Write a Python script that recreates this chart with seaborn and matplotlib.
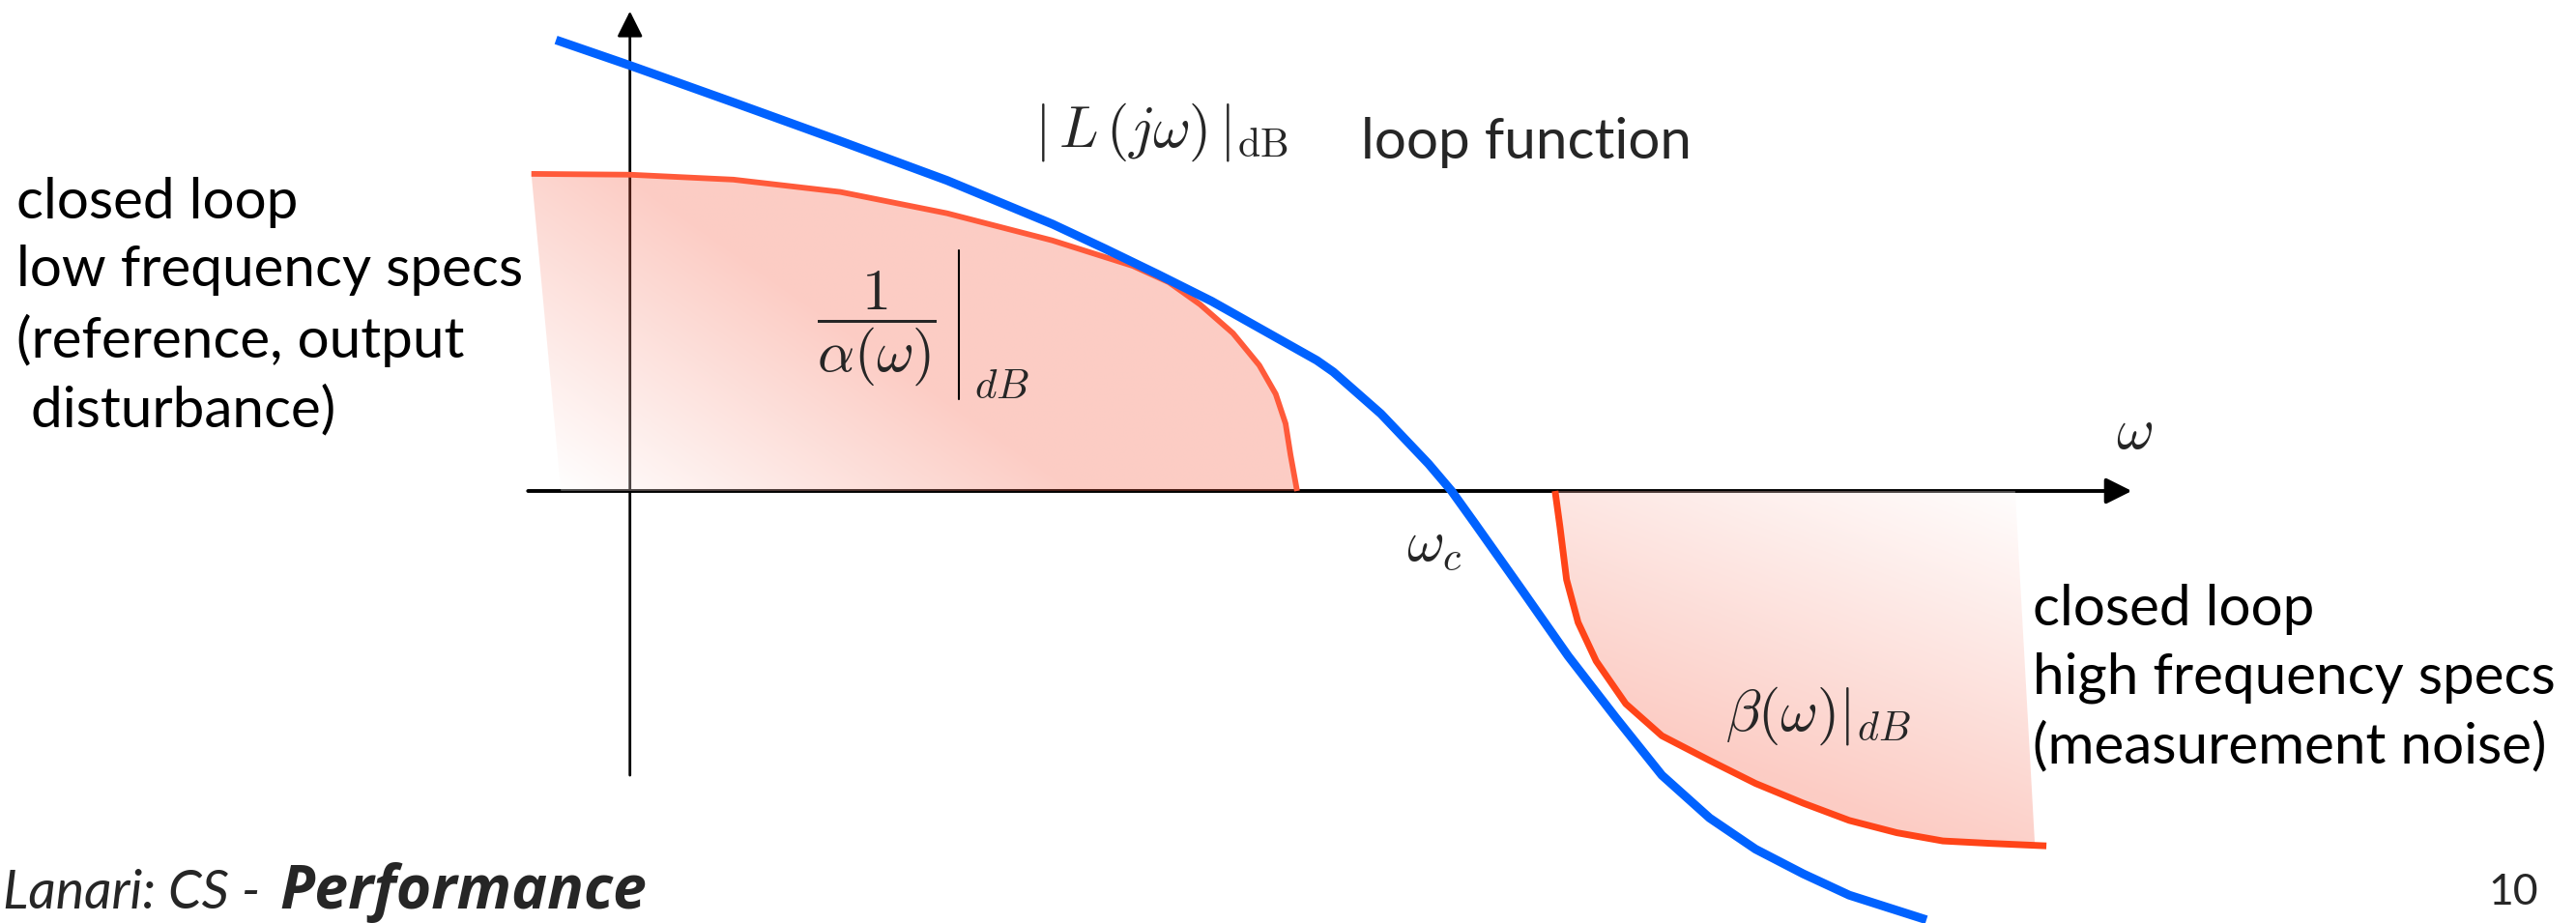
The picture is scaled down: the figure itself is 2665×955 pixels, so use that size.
import numpy as np
import matplotlib
matplotlib.use("Agg")
import matplotlib.pyplot as plt
from matplotlib.colors import LinearSegmentedColormap
from matplotlib.lines import Line2D
import seaborn as sns

# ---- data: log-frequency axis (arbitrary decades) vs magnitude in dB ----
loop_w = [-0.44, 0.01, 0.64, 1.29, 1.94, 2.58, 2.90, 3.22, 3.55, 3.87, 4.19, 4.29,
          4.58, 4.87, 5.01, 5.15, 5.44, 5.72, 6.01, 6.29, 6.58, 6.86, 7.15, 7.43, 7.90]
loop_db = [54.9, 51.8, 47.3, 42.6, 37.8, 32.5, 29.5, 26.4, 23.1, 19.5, 15.9, 14.5,
           9.4, 3.3, 0.0, -3.9, -12.1, -20.1, -27.6, -34.6, -39.8, -43.6, -46.6, -49.2, -52.2]

alpha_w = [-0.59, 0.01, 0.64, 1.29, 1.94, 2.58, 3.07, 3.29, 3.48, 3.68, 3.84,
           3.94, 4.00, 4.03, 4.07]
alpha_db = [38.6, 38.5, 37.9, 36.4, 33.8, 30.5, 27.4, 25.4, 22.7, 19.2, 15.3,
            11.8, 8.2, 4.4, 0.0]

beta_w = [5.64, 5.67, 5.71, 5.78, 5.89, 6.07, 6.29, 6.58, 6.86, 7.15, 7.43,
          7.72, 8.00, 8.29, 8.63]
beta_db = [0.0, -4.4, -10.8, -16.0, -20.7, -25.9, -29.8, -32.8, -35.6, -38.0, -40.1,
           -41.6, -42.6, -42.9, -43.2]

low_band_start = -0.41   # low-frequency spec region meets the 0 dB axis here
high_band_top = 8.44     # high-frequency spec region: right edge at 0 dB
high_band_bottom = 8.56  # high-frequency spec region: right edge on the beta curve

# ---- figure ----
W, H, DPI = 2665, 955, 100
PX_PER_W, PX_PER_DB = 170.0, 8.5
X0, Y0 = 650.0, 508.0

sns.set_theme(style="white")
plt.rcParams["font.family"] = ["Lato", "DejaVu Sans"]
plt.rcParams["mathtext.fontset"] = "cm"

fig = plt.figure(figsize=(W / DPI, H / DPI), dpi=DPI)
ax = fig.add_axes([0, 0, 1, 1])
XLIM = (-X0 / PX_PER_W, (W - X0) / PX_PER_W)
YLIM = (-(H - Y0) / PX_PER_DB, Y0 / PX_PER_DB)
ax.set_axis_off()

BLUE = "#0062FF"
RED_A = "#FF5A3A"
RED_B = "#FF4418"

# coordinate axes with arrow heads
arrow_kw = dict(arrowstyle="-|>,head_length=0.9,head_width=0.45", color="black",
                mutation_scale=18, shrinkA=0, shrinkB=0)
ax.annotate("", xy=(9.15, 0), xytext=(-0.61, 0),
            arrowprops=dict(lw=2.8, **arrow_kw), zorder=1)
ax.annotate("", xy=(0.01, 58.4), xytext=(0.01, -34.6),
            arrowprops=dict(lw=2.0, **arrow_kw), zorder=1)


def gradient_region(xs, ys, light, dark):
    """Fill polygon (xs, ys) with a white->red gradient running from light to dark."""
    poly = ax.fill(xs, ys, facecolor="none", edgecolor="none")[0]
    xmin, xmax = min(xs), max(xs)
    ymin, ymax = min(ys), max(ys)
    gx, gy = np.meshgrid(np.linspace(xmin, xmax, 600), np.linspace(ymin, ymax, 600))
    px, py = gx * PX_PER_W, gy * PX_PER_DB
    lx, ly = light[0] * PX_PER_W, light[1] * PX_PER_DB
    dx, dy = dark[0] * PX_PER_W - lx, dark[1] * PX_PER_DB - ly
    t = np.clip(((px - lx) * dx + (py - ly) * dy) / (dx * dx + dy * dy), 0, 1)
    cmap = LinearSegmentedColormap.from_list("pinkfade", ["#FFFFFF", "#F5553A"])
    im = ax.imshow(t, extent=[xmin, xmax, ymin, ymax], origin="lower", cmap=cmap,
                   vmin=0, vmax=1, aspect="auto", alpha=0.3, zorder=2,
                   interpolation="bilinear")
    im.set_clip_path(poly)


# low-frequency specification region (above 0 dB)
gradient_region(alpha_w + [low_band_start], alpha_db + [0.0],
                light=(-0.45, 0.0), dark=(0.6, 30.0))

# high-frequency specification region (below 0 dB)
hb_w = [w for w in beta_w if w <= high_band_bottom]
hb_db = beta_db[:len(hb_w)]
gradient_region(hb_w + [high_band_bottom, high_band_top],
                hb_db + [float(np.interp(high_band_bottom, beta_w, beta_db)), 0.0],
                light=(8.4, 2.0), dark=(7.6, -40.0))

ax.set_xlim(*XLIM)
ax.set_ylim(*YLIM)

# magnitude curves
sns.lineplot(x=alpha_w, y=alpha_db, ax=ax, color=RED_A, linewidth=4.2, sort=False,
             zorder=3, solid_capstyle="butt", solid_joinstyle="round")
sns.lineplot(x=beta_w, y=beta_db, ax=ax, color=RED_B, linewidth=5.0, sort=False,
             zorder=3, solid_capstyle="butt", solid_joinstyle="round")
sns.lineplot(x=loop_w, y=loop_db, ax=ax, color=BLUE, linewidth=6.5, sort=False,
             zorder=4, solid_capstyle="butt", solid_joinstyle="round")


def fx(px):
    return px / W


def fy(py):
    return 1 - py / H


BODY = 42
MATH = 43

# multi-line blocks are anchored on the baseline of their last line
fig.text(fx(17), fy(441), "closed loop\nlow frequency specs\n(reference, output\n disturbance)",
         fontsize=BODY, ha="left", va="baseline", linespacing=1.4, color="black")
fig.text(fx(2103), fy(789), "closed loop\nhigh frequency specs\n(measurement noise)",
         fontsize=BODY, ha="left", va="baseline", linespacing=1.4, color="black")
fig.text(fx(1408), fy(164), "loop function", fontsize=BODY, ha="left", va="baseline")

fig.text(fx(1202), fy(136), r"$|\,L\,(j\omega)\,|_{\mathrm{dB}}$", fontsize=MATH,
         ha="center", va="center")

# 1/alpha(w) evaluated in dB: fraction, evaluation bar and subscript
fig.text(fx(907), fy(340), r"$\dfrac{1}{\alpha(\omega)}$", fontsize=MATH,
         ha="center", va="center")
fig.add_artist(Line2D([fx(992), fx(992)], [fy(259), fy(413)],
                      transform=fig.transFigure, color="black", lw=1.5))
fig.text(fx(1036), fy(400), r"$dB$", fontsize=31, ha="center", va="center")

fig.text(fx(1881), fy(740), r"$\beta(\omega)|_{dB}$", fontsize=MATH, ha="center", va="center")
fig.text(fx(2208), fy(447), r"$\omega$", fontsize=MATH, ha="center", va="center")
fig.text(fx(1484), fy(565), r"$\omega_c$", fontsize=MATH, ha="center", va="center")

# slide footer
fig.text(fx(2600), fy(936), "10", fontsize=32, ha="center", va="baseline")
fig.text(fx(3), fy(940), "Lanari: CS -", fontsize=40, style="italic",
         ha="left", va="baseline")
fig.text(fx(289), fy(940), "Performance", fontsize=45, style="italic",
         weight="bold", family=["Open Sans", "DejaVu Sans"], ha="left", va="baseline")

fig.savefig("out.png", dpi=DPI)
